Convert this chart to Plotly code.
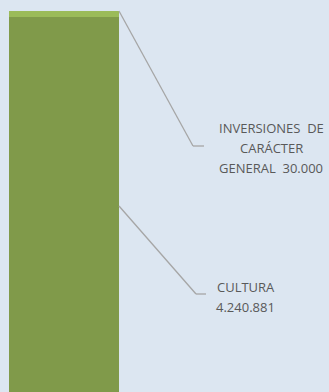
import plotly.graph_objects as go

# Budget programme amounts (stacked in one column)
categories = ["CULTURA", "INVERSIONES DE CARÁCTER GENERAL"]
values = [4240881, 30000]
value_labels = ["4.240.881", "30.000"]
colors = ["#809A4A", "#9BBB59"]

W, H = 329, 392
units_per_px = 5000  # vertical scale of the zoomed view
top_value = sum(values)
y_top = top_value + 11 * units_per_px
y_bottom = y_top - H * units_per_px

fig = go.Figure()
for name, v, c in zip(categories, values, colors):
    fig.add_trace(go.Bar(
        x=[0], y=[v], name=name, width=1,
        marker=dict(color=c, line=dict(width=0)),
        hoverinfo="skip", showlegend=False,
    ))

px_per_x = 110
x_left = -0.5 - 9 / px_per_x
x_right = x_left + W / px_per_x

def px_to_y(py):
    return y_top - py * units_per_px

def px_to_x(px):
    return x_left + px / px_per_x

line_style = dict(color="#A6A6A6", width=1.3)

# leader for the top segment
seg_top = top_value
fig.add_shape(type="line", xref="x", yref="y", x0=0.5, y0=seg_top,
              x1=px_to_x(193), y1=px_to_y(146), line=line_style)
fig.add_shape(type="line", xref="x", yref="y", x0=px_to_x(193), y0=px_to_y(146),
              x1=px_to_x(204), y1=px_to_y(146), line=line_style)

# leader for the large segment
fig.add_shape(type="line", xref="x", yref="y", x0=0.5, y0=px_to_y(206),
              x1=px_to_x(196), y1=px_to_y(294), line=line_style)
fig.add_shape(type="line", xref="x", yref="y", x0=px_to_x(196), y0=px_to_y(294),
              x1=px_to_x(206), y1=px_to_y(294), line=line_style)

font = dict(family="Open Sans", size=13, color="#595959")

def label(text, cx, cy):
    fig.add_annotation(text=text, xref="x", yref="y", x=px_to_x(cx), y=px_to_y(cy),
                       showarrow=False, font=font, xanchor="center", yanchor="middle")

label("INVERSIONES  DE", 271, 128)
label("CARÁCTER", 271, 148)
label("GENERAL  " + value_labels[1], 271, 168)
label("CULTURA", 246, 287)
label(value_labels[0], 245, 307)

fig.update_layout(
    barmode="stack",
    width=W, height=H,
    margin=dict(l=0, r=0, t=0, b=0),
    paper_bgcolor="#DCE6F1",
    plot_bgcolor="#DCE6F1",
    bargap=0,
    xaxis=dict(range=[x_left, x_right], visible=False, fixedrange=True),
    yaxis=dict(range=[y_bottom, y_top], visible=False, fixedrange=True),
)

fig.write_html("out.html", config={"displayModeBar": False})
